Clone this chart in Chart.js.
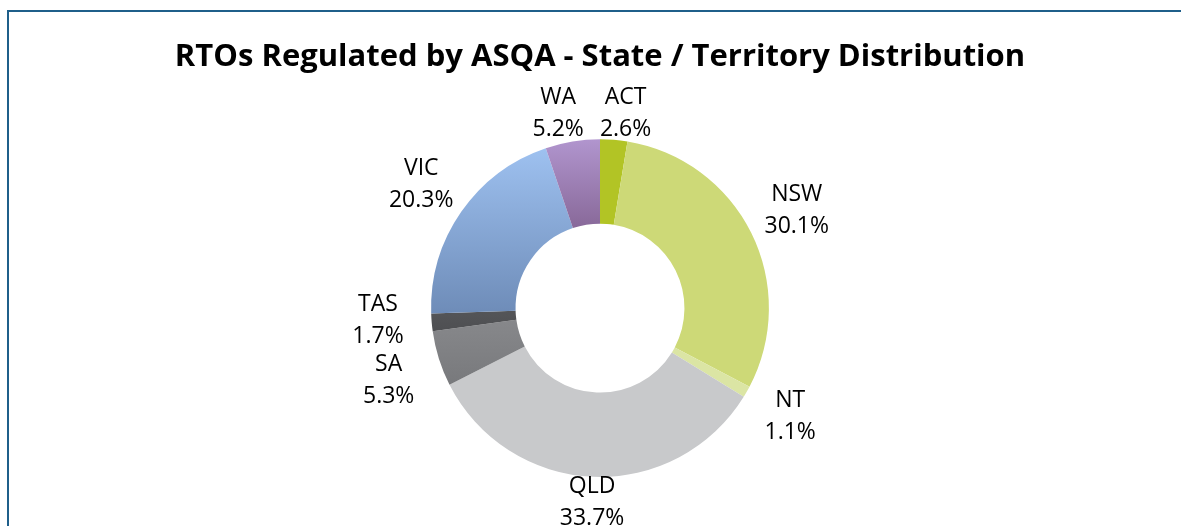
<!DOCTYPE html>
<html>
<head>
<meta charset="utf-8">
<script src="https://cdn.jsdelivr.net/npm/chart.js@4/dist/chart.umd.min.js"></script>
<style>
  html, body { margin: 0; padding: 0; background: #fff; }
  #wrap { position: relative; width: 1181px; height: 526px; overflow: hidden; }
  #frame { position: absolute; left: 7px; top: 10px; width: 1200px; height: 600px;
           border-top: 2px solid #1f5f8a; border-left: 2px solid #1f5f8a; }
  canvas { position: absolute; left: 0; top: 0; }
</style>
</head>
<body>
<div id="wrap">
  <div id="frame"></div>
  <canvas id="donut" width="1181" height="526"></canvas>
</div>
<script>
const states = ['ACT', 'NSW', 'NT', 'QLD', 'SA', 'TAS', 'VIC', 'WA'];
const shares = [2.6, 30.1, 1.1, 33.7, 5.3, 1.7, 20.3, 5.2];
const colorsTop = ['#b2c425', '#cdd977', '#dbe5a4', '#c8c9cb', '#87888b', '#545558', '#9ec1f0', '#b195ce'];
const colorsBottom = ['#b2c425', '#cdd977', '#dbe5a4', '#c8c9cb', '#78797c', '#4e4f52', '#6e8cb8', '#886999'];

// vertical gradient per slice, over the slice's own height
const sliceGradients = {
  id: 'sliceGradients',
  beforeDatasetsDraw(chart) {
    const ctx = chart.ctx;
    chart.getDatasetMeta(0).data.forEach((arc, i) => {
      if (colorsTop[i] === colorsBottom[i]) {
        arc.options.backgroundColor = colorsTop[i];
        return;
      }
      let minY = Infinity, maxY = -Infinity;
      for (let k = 0; k <= 40; k++) {
        const a = arc.startAngle + (arc.endAngle - arc.startAngle) * k / 40;
        [arc.innerRadius, arc.outerRadius].forEach(r => {
          const y = arc.y + r * Math.sin(a);
          minY = Math.min(minY, y);
          maxY = Math.max(maxY, y);
        });
      }
      const g = ctx.createLinearGradient(0, minY, 0, maxY);
      g.addColorStop(0, colorsTop[i]);
      g.addColorStop(1, colorsBottom[i]);
      arc.options.backgroundColor = g;
    });
  }
};

// category name and percentage outside each slice
const outsideLabels = {
  id: 'outsideLabels',
  afterDatasetsDraw(chart) {
    const ctx = chart.ctx;
    ctx.save();
    ctx.font = '23px "Open Sans"';
    ctx.fillStyle = '#000';
    ctx.textAlign = 'center';
    ctx.textBaseline = 'middle';
    const boxH = 60;
    const labels = chart.getDatasetMeta(0).data.map((arc, i) => {
      const a = (arc.startAngle + arc.endAngle) / 2;
      const dist = arc.outerRadius + 24 + 30 * Math.abs(Math.cos(a));
      const pct = shares[i].toFixed(1) + '%';
      const w = Math.max(ctx.measureText(states[i]).width, ctx.measureText(pct).width);
      return { x: arc.x + dist * Math.cos(a), y: arc.y + dist * Math.sin(a), w, pct, name: states[i] };
    });
    // push neighbouring labels apart when they collide
    for (let pass = 0; pass < 5; pass++) {
      for (let i = 0; i < labels.length; i++) {
        const p = labels[i], q = labels[(i + 1) % labels.length];
        const ox = (p.w + q.w) / 2 + 16 - Math.abs(p.x - q.x);
        const oy = boxH - Math.abs(p.y - q.y);
        if (ox <= 0 || oy <= 0) continue;
        if (ox < oy) {
          const s = p.x < q.x ? -1 : 1;
          p.x += s * ox / 2; q.x -= s * ox / 2;
        } else {
          const s = p.y < q.y ? -1 : 1;
          p.y += s * oy / 2; q.y -= s * oy / 2;
        }
      }
    }
    labels.forEach(l => {
      ctx.fillText(l.name, l.x, l.y - 16);
      ctx.fillText(l.pct, l.x, l.y + 16);
    });
    ctx.restore();
  }
};

new Chart(document.getElementById('donut'), {
  type: 'doughnut',
  data: {
    labels: states,
    datasets: [{
      data: shares,
      backgroundColor: colorsTop,
      borderWidth: 0
    }]
  },
  options: {
    responsive: false,
    animation: false,
    cutout: '50%',
    layout: { padding: { left: 20, right: 1, top: 0, bottom: 49 } },
    plugins: {
      legend: { display: false },
      tooltip: { enabled: false },
      title: {
        display: true,
        text: 'RTOs Regulated by ASQA - State / Territory Distribution',
        color: '#000',
        font: { family: 'Open Sans', size: 31, weight: 'bold', lineHeight: 1.2 },
        padding: { top: 39, bottom: 63 }
      }
    }
  },
  plugins: [sliceGradients, outsideLabels]
});
</script>
</body>
</html>
